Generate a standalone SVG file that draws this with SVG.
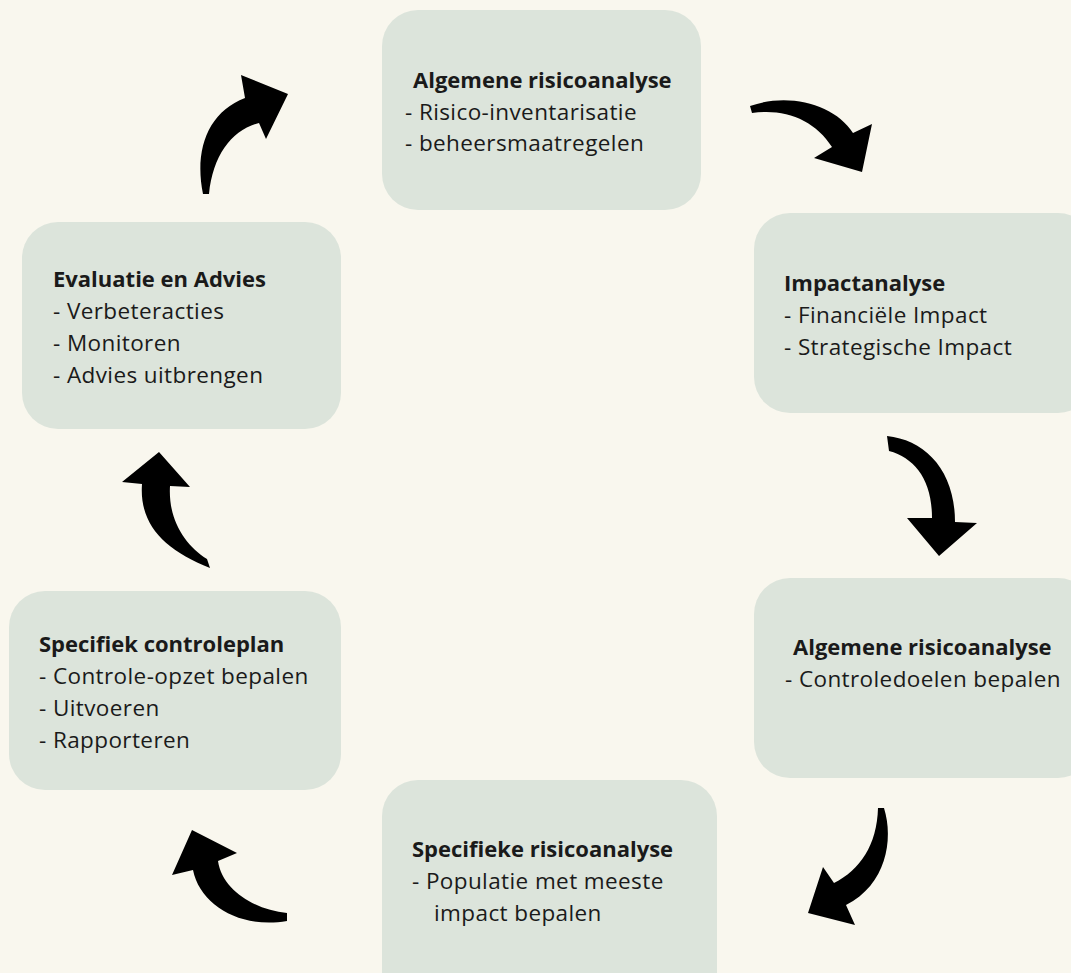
<svg xmlns="http://www.w3.org/2000/svg" width="1071" height="973" viewBox="0 0 1071 973">
<style>
.box{fill:#dce4db;}
.t{font-family:"Open Sans","Noto Sans","Liberation Sans",sans-serif;font-size:22.5px;letter-spacing:0.4px;fill:#1a1a1a;}
.b{font-weight:bold;font-size:22px;letter-spacing:0;}
.arrow{fill:#000;}
</style>
<rect width="1071" height="973" fill="#f9f7ee"/>
<g id="node-algemene1">
<rect class="box" x="382" y="10" width="319" height="200" rx="36"/>
<text class="t b" x="413" y="88">Algemene risicoanalyse</text>
<text class="t" x="405" y="120">- Risico-inventarisatie</text>
<text class="t" x="405" y="151">- beheersmaatregelen</text>
</g>
<g id="node-impact">
<rect class="box" x="754" y="213" width="340" height="200" rx="36"/>
<text class="t b" x="784" y="291">Impactanalyse</text>
<text class="t" x="784" y="323">- Financiële Impact</text>
<text class="t" x="784" y="355">- Strategische Impact</text>
</g>
<g id="node-algemene2">
<rect class="box" x="754" y="578" width="340" height="200" rx="36"/>
<text class="t b" x="793" y="655">Algemene risicoanalyse</text>
<text class="t" x="785" y="687">- Controledoelen bepalen</text>
</g>
<g id="node-specifieke">
<rect class="box" x="382" y="780" width="335" height="230" rx="36"/>
<text class="t b" x="412" y="857">Specifieke risicoanalyse</text>
<text class="t" x="412" y="889">- Populatie met meeste</text>
<text class="t" x="434" y="921">impact bepalen</text>
</g>
<g id="node-controleplan">
<rect class="box" x="9" y="591" width="332" height="199" rx="36"/>
<text class="t b" x="39" y="652">Specifiek controleplan</text>
<text class="t" x="39" y="684">- Controle-opzet bepalen</text>
<text class="t" x="39" y="716">- Uitvoeren</text>
<text class="t" x="39" y="748">- Rapporteren</text>
</g>
<g id="node-evaluatie">
<rect class="box" x="22" y="222" width="319" height="207" rx="36"/>
<text class="t b" x="53" y="287">Evaluatie en Advies</text>
<text class="t" x="53" y="319">- Verbeteracties</text>
<text class="t" x="53" y="351">- Monitoren</text>
<text class="t" x="53" y="383">- Advies uitbrengen</text>
</g>
<g id="connectors">
<path class="arrow" d="M203,194 C194,150 208,112 245,98 L241,75 L288,94 L266,139 L259,123 C232,130 213,155 209,194 Z"/>
<path class="arrow" d="M750,106 C790,92 835,105 853,133 L872,124 L862,172 L814,158 L832,147 C815,120 785,108 752,113 Z"/>
<path class="arrow" d="M887,436 C925,440 955,470 955,522 L977,523 L939,556 L907,518 L932,518 C932,480 915,458 889,451 Z"/>
<path class="arrow" d="M884,808 C894,840 886,885 846,905 L855,925 L808,913 L823,867 L834,883 C860,870 877,845 878,808 Z"/>
<path class="arrow" d="M287,913 C255,910 222,890 218,861 L237,853 L192,830 L172,875 L193,870 C200,905 240,929 287,921 Z"/>
<path class="arrow" d="M210,568 C165,550 139,525 142,484 L122,482 L159,452 L190,487 L170,486 C168,520 185,545 207,559 Z"/>
</g>
</svg>
